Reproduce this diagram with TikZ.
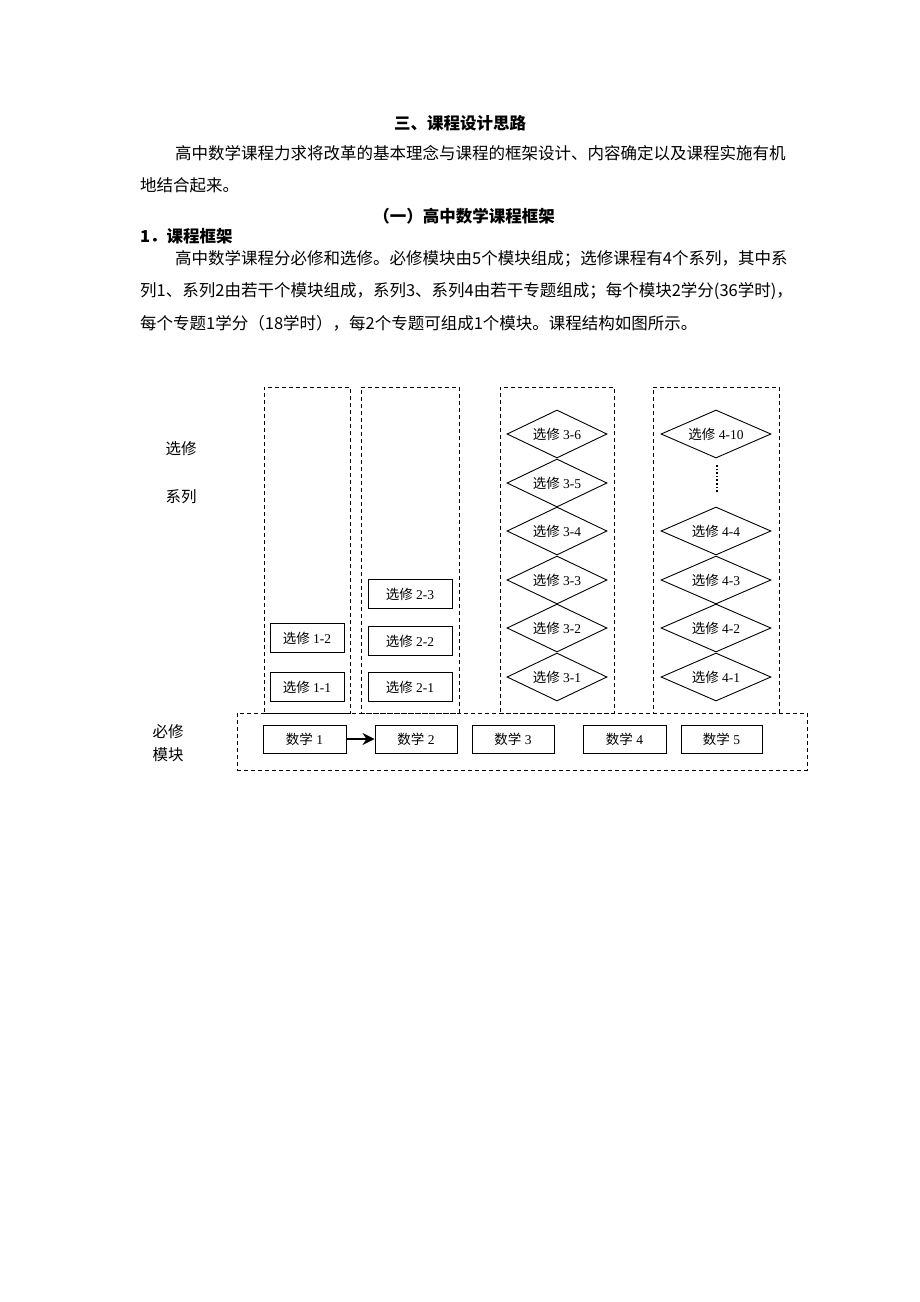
\documentclass[tikz,border=0pt]{standalone}
\usepackage{fontspec}
\setmainfont{Liberation Serif}
\newfontfamily\cjk{Noto Sans CJK SC}
\usetikzlibrary{shapes.geometric,arrows.meta}
\newcommand{\xx}[1]{{\cjk #1}}
\begin{document}
\begin{tikzpicture}[x=1pt,y=-1pt,
  txt/.style={inner sep=0pt, anchor=west, font=\cjk\fontsize{16.5}{18}\selectfont},
  head/.style={inner sep=0pt, font=\cjk\bfseries\fontsize{16.5}{18}\selectfont},
  side/.style={inner sep=0pt, font=\cjk\fontsize{15.5}{16}\selectfont},
  col/.style={draw, dash pattern=on 4pt off 3pt, line width=1pt, inner sep=0pt, minimum height=326},
  box/.style={draw, line width=0.9pt, inner sep=0pt, minimum height=29, font=\fontsize{13.5}{13.5}\selectfont},
  dia/.style={diamond, draw, line width=0.9pt, inner sep=0pt, minimum height=48, font=\fontsize{13.5}{13.5}\selectfont}]
\useasboundingbox (0,0) rectangle (920,1302);
\fill[white] (0,0) rectangle (920,1302);
% text
\node[head] (t1) at (460,123) {三、课程设计思路};
\node[txt] (p1a) at (175,153) {高中数学课程力求将改革的基本理念与课程的框架设计、内容确定以及课程实施有机};
\node[txt] (p1b) at (140,185) {地结合起来。};
\node[head] (t2) at (464,216) {（一）高中数学课程框架};
\node[head, anchor=west] (t3) at (140,236) {1．课程框架};
\node[txt] (p2a) at (175,259) {高中数学课程分必修和选修。必修模块由5个模块组成；选修课程有4个系列，其中系};
\node[txt] (p2b) at (140,291) {列1、系列2由若干个模块组成，系列3、系列4由若干专题组成；每个模块2学分(36学时)，};
\node[txt] (p2c) at (140,323) {每个专题1学分（18学时），每2个专题可组成1个模块。课程结构如图所示。};
% side labels
\node[side] (l1) at (181,449) {选修};
\node[side] (l2) at (181,497) {系列};
\node[side] (l3) at (168,732) {必修};
\node[side] (l4) at (168,755) {模块};
% columns
\node[col, minimum width=86] (c1) at (307,550) {};
\node[col, minimum width=98] (c2) at (410,550) {};
\node[col, minimum width=114] (c3) at (557,550) {};
\node[col, minimum width=126] (c4) at (716,550) {};
\node[col, minimum width=570, minimum height=57] (big) at (522,741.5) {};
% series 1, 2
\node[box, minimum width=74] (s11) at (307,687) {\xx{选修} 1-1};
\node[box, minimum width=74] (s12) at (307,638) {\xx{选修} 1-2};
\node[box, minimum width=84] (s21) at (410,687) {\xx{选修} 2-1};
\node[box, minimum width=84] (s22) at (410,641) {\xx{选修} 2-2};
\node[box, minimum width=84] (s23) at (410,594) {\xx{选修} 2-3};
% series 3
\begin{scope}[every node/.append style={aspect=2.4}]
\node[dia, minimum width=100] (s36) at (557,434) {\xx{选修} 3-6};
\node[dia, minimum width=100] (s35) at (557,483) {\xx{选修} 3-5};
\node[dia, minimum width=100] (s34) at (557,531) {\xx{选修} 3-4};
\node[dia, minimum width=100] (s33) at (557,580) {\xx{选修} 3-3};
\node[dia, minimum width=100] (s32) at (557,628) {\xx{选修} 3-2};
\node[dia, minimum width=100] (s31) at (557,677) {\xx{选修} 3-1};
% series 4
\node[dia, minimum width=110] (s410) at (716,434) {\xx{选修} 4-10};
\node[dia, minimum width=110] (s44) at (716,531) {\xx{选修} 4-4};
\node[dia, minimum width=110] (s43) at (716,580) {\xx{选修} 4-3};
\node[dia, minimum width=110] (s42) at (716,628) {\xx{选修} 4-2};
\node[dia, minimum width=110] (s41) at (716,677) {\xx{选修} 4-1};
\end{scope}
\coordinate (d1) at (717,465);
\coordinate (d2) at (717,493);
\draw[line width=1.6pt, dash pattern=on 1.6pt off 2pt] (d1) -- (d2);
% compulsory
\node[box, minimum width=83, minimum height=28] (m1) at (304.5,739) {\xx{数学} 1};
\node[box, minimum width=82, minimum height=28] (m2) at (416,739) {\xx{数学} 2};
\node[box, minimum width=82, minimum height=28] (m3) at (513,739) {\xx{数学} 3};
\node[box, minimum width=83, minimum height=28] (m4) at (624.5,739) {\xx{数学} 4};
\node[box, minimum width=81, minimum height=28] (m5) at (721.5,739) {\xx{数学} 5};
\draw[-{Stealth[length=12pt,width=12pt]}, line width=1.8pt] (m1.east) -- (m2.west);
\end{tikzpicture}
\end{document}
